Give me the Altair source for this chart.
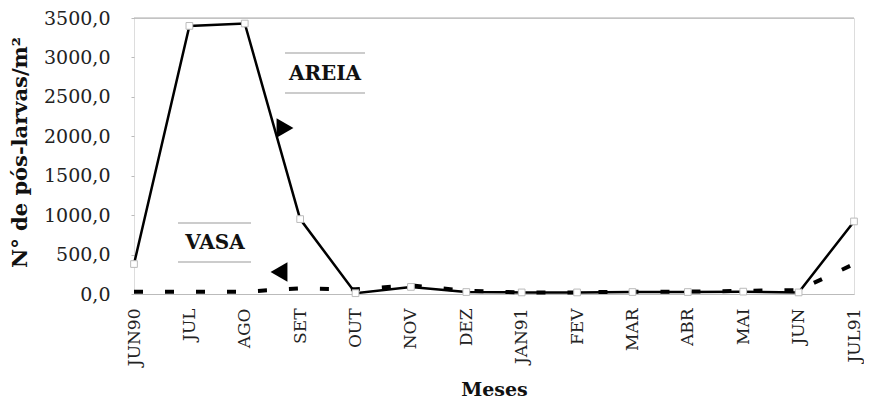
import altair as alt
import pandas as pd

months = ["JUN90", "JUL", "AGO", "SET", "OUT", "NOV", "DEZ", "JAN91",
          "FEV", "MAR", "ABR", "MAI", "JUN", "JUL91"]
areia = [380, 3400, 3430, 950, 10, 90, 25, 20, 20, 25, 25, 30, 20, 920]
vasa = [30, 30, 30, 70, 60, 110, 40, 20, 20, 30, 30, 40, 50, 380]
y_ticks = [0, 500, 1000, 1500, 2000, 2500, 3000, 3500]

FONT = "DejaVu Serif"
W, H = 720, 276
L, T = 126, 10
OX, OY = 8 + L, 8 + T  # page position of the plot origin

df = pd.DataFrame({
    "mes": months * 2,
    "serie": ["AREIA"] * len(months) + ["VASA"] * len(months),
    "valor": areia + vasa,
})

xenc = alt.X("mes:N", sort=months, scale=alt.Scale(type="point", padding=0),
             axis=alt.Axis(title="Meses", labelAngle=-90, labelFont=FONT, labelFontSize=17,
                           labelColor="#222", labelPadding=14, ticks=False, labelOverlap=False,
                           domainColor="#bbbbbb", domainWidth=1,
                           titleFont=FONT, titleFontSize=19, titleFontWeight="bold",
                           titleColor="#111", titleY=95, titleBaseline="middle"))
xplain = alt.X("mes:N", sort=months)
yenc = alt.Y("valor:Q", scale=alt.Scale(domain=[0, 3500], nice=False),
             axis=alt.Axis(title="N° de pós-larvas/m²", values=y_ticks, labelOverlap=False,
                           labelExpr="replace(format(datum.value, '.1f'), '.', ',')",
                           labelFont=FONT, labelFontSize=19, labelColor="#222",
                           labelPadding=21, tickSize=3, tickColor="#bbbbbb",
                           domain=False, grid=False,
                           titleFont=FONT, titleFontSize=21, titleFontWeight="bold",
                           titleColor="#111", titleX=20 - OX, titleY=152 - OY,
                           titleAngle=-90, titleAlign="center", titleBaseline="middle"))

base = alt.Chart(df)

top_rule = alt.Chart(pd.DataFrame({"valor": [3500]})).mark_rule(
    color="#aaaaaa", strokeWidth=1).encode(y=yenc, x=alt.value(0), x2=alt.value(W))

line_areia = base.transform_filter("datum.serie == 'AREIA'").mark_line(
    color="black", strokeWidth=2.5).encode(x=xenc, y=yenc)
line_vasa = base.transform_filter("datum.serie == 'VASA'").mark_line(
    color="black", strokeWidth=4, strokeDash=[9, 22]).encode(x=xplain, y=yenc)
pts = base.transform_filter("datum.serie == 'AREIA'").mark_point(
    shape="square", filled=True, fill="white", stroke="#bbbbbb", strokeWidth=1, size=45,
    opacity=1).encode(x=xplain, y=yenc)

labels = alt.Chart(pd.DataFrame({"t": ["AREIA", "VASA"], "px": [325 - OX, 215 - OX],
                                 "py": [74 - OY, 243 - OY]})).mark_text(
    font=FONT, fontSize=20, fontWeight="bold", color="#111", baseline="middle").encode(
    text="t:N", x=alt.X("px:Q", scale=None), y=alt.Y("py:Q", scale=None))

box_lines = alt.Chart(pd.DataFrame({
    "x1": [285 - OX, 285 - OX, 178 - OX, 178 - OX],
    "x2": [365 - OX, 365 - OX, 251 - OX, 251 - OX],
    "yy": [53 - OY, 93 - OY, 223 - OY, 262 - OY],
})).mark_rule(color="#999999", strokeWidth=1).encode(
    x=alt.X("x1:Q", scale=None), x2="x2:Q", y=alt.Y("yy:Q", scale=None))

arrows = alt.Chart(pd.DataFrame({
    "px": [285 - OX, 279 - OX], "py": [128 - OY, 272 - OY],
    "sh": ["triangle-right", "triangle-left"]})).mark_point(
    filled=True, color="black", size=380, opacity=1).encode(
    x=alt.X("px:Q", scale=None), y=alt.Y("py:Q", scale=None),
    shape=alt.Shape("sh:N", scale=None))

chart = alt.layer(line_areia, top_rule, line_vasa, pts, box_lines, labels, arrows).properties(
    width=W, height=H,
    autosize=alt.AutoSizeParams(type="none"),
    padding={"left": L, "top": T, "right": 10, "bottom": 108},
).configure_view(stroke=None).configure(background="white")

chart.save("out.html", embed_options={"renderer": "svg", "actions": False})
